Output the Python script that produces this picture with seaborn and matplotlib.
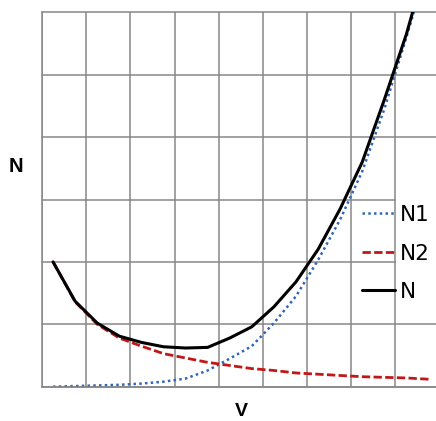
import numpy as np
import pandas as pd
import seaborn as sns
import matplotlib.pyplot as plt
from matplotlib.patches import Rectangle
from matplotlib.font_manager import FontProperties

# values
v = [0.25, 0.75, 1.25, 1.75, 2.25, 2.75, 3.25, 3.75, 4.25,
     4.75, 5.25, 5.75, 6.25, 6.75, 7.25, 7.75, 8.25, 8.75]
n1 = [0.0, 0.01, 0.02, 0.03, 0.05, 0.08, 0.13, 0.26, 0.45,
      0.65, 1.02, 1.45, 2.03, 2.68, 3.45, 4.45, 5.6, 6.8]
n2 = [2.0, 1.36, 1.0, 0.78, 0.65, 0.53, 0.46, 0.39, 0.34,
      0.29, 0.26, 0.22, 0.20, 0.18, 0.16, 0.15, 0.14, 0.12]
n = [2.0, 1.37, 1.02, 0.81, 0.71, 0.64, 0.62, 0.63, 0.78,
     0.96, 1.28, 1.68, 2.2, 2.85, 3.6, 4.6, 5.65, 6.9]

df = pd.DataFrame({'V': v, 'N1': n1, 'N2': n2, 'N': n})

sns.set_style('white')
plt.rcParams['font.family'] = ['Liberation Sans', 'DejaVu Sans']
plt.rcParams['text.color'] = 'black'

grid_col = '#878787'
fig = plt.figure(figsize=(4.36, 4.21), dpi=100)
ax = fig.add_axes([42 / 436, (421 - 386.7) / 421, (436 - 42) / 436, (386.7 - 12.3) / 421])

sns.lineplot(data=df, x='V', y='N1', ax=ax, color='#2E66B8', lw=1.8,
             linestyle=(0, (1, 1.3)), label='N1')
sns.lineplot(data=df, x='V', y='N2', ax=ax, color='#C01818', lw=2.0,
             linestyle=(0, (3.0, 1.2)), label='N2')
sns.lineplot(data=df, x='V', y='N', ax=ax, color='black', lw=2.2, label='N')

ax.set_xlim(0, 8.92)
ax.set_ylim(0, 6)
ax.set_xticks(range(0, 9))
ax.set_yticks(range(0, 7))
ax.set_xticklabels([])
ax.set_yticklabels([])
ax.tick_params(direction='out', length=3, width=1.1, color=grid_col)
ax.grid(True, color=grid_col, lw=1.1)
for g in ax.get_ygridlines():
    g.set_clip_on(False)
ax.set_axisbelow(True)
for s in ['top', 'right']:
    ax.spines[s].set_visible(False)
for s in ['left', 'bottom']:
    ax.spines[s].set_color(grid_col)
    ax.spines[s].set_linewidth(1.1)
ax.set_xlabel('')
ax.set_ylabel('')

# white box behind the legend text
ax.add_patch(Rectangle(((396 - 42) / 394, 0.23), 1, 0.27,
                       transform=ax.transAxes, facecolor='white',
                       edgecolor='none', zorder=1.5))

leg_font = FontProperties(family=['Liberation Sans Narrow', 'DejaVu Sans'], size=15.5)
leg = ax.legend(loc='upper left', bbox_to_anchor=((362 - 42) / 394, (386.7 - 205) / 374.4),
                frameon=False, prop=leg_font, handlelength=1.53, handletextpad=0.22,
                labelspacing=0.86, borderaxespad=0, borderpad=0, labelcolor='black')

fig.text(16 / 436, 1 - 167 / 421, 'N', fontsize=14.5, fontweight='bold',
         ha='center', va='center', color='black')
fig.text(241.5 / 436, 1 - 403 / 421, 'V', fontsize=14, fontweight='bold',
         ha='center', va='top', color='black')

fig.savefig('out.png', dpi=100)
